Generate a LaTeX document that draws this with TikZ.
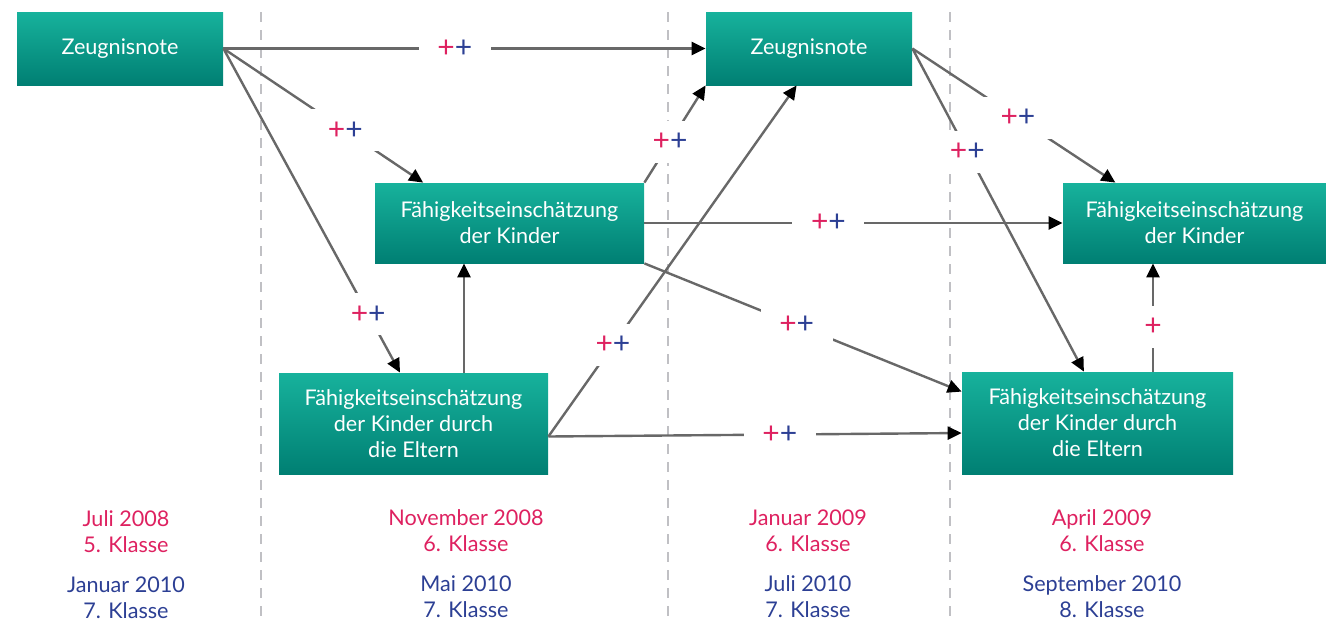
\documentclass[tikz,border=0pt]{standalone}
\usepackage{fontspec}
\setmainfont{Lato}
\usetikzlibrary{arrows.meta,positioning,calc}
\definecolor{tealTop}{HTML}{17B29C}
\definecolor{tealBot}{HTML}{007F73}
\definecolor{lineGray}{HTML}{686868}
\definecolor{dashGray}{HTML}{C0C0C4}
\definecolor{plusRed}{HTML}{DE2160}
\definecolor{plusBlue}{HTML}{2C3F94}
\newcommand{\pp}{\textcolor{plusRed}{+}\textcolor{plusBlue}{+}}

\begin{document}
\begin{tikzpicture}[x=0.5pt,y=-0.5pt,every node/.style={font=\fontsize{10.8}{13}\selectfont}]
      \tikzstyle{box}=[top color=tealTop,bottom color=tealBot,text=white,align=center,
                       inner sep=0pt,minimum width=134.5pt,minimum height=40pt]
      \tikzstyle{arr}=[draw=lineGray,line width=1.2pt,-{Triangle[length=7pt,width=6.5pt,color=black]}]
      \tikzstyle{pl}=[fill=white,minimum width=36pt,minimum height=21pt,inner sep=0pt,
                      font=\fontsize{15}{17}\selectfont]
      \tikzstyle{sep}=[dashGray,line width=1.1pt,dash pattern=on 5pt off 4pt]
      \tikzstyle{early}=[text=plusRed,align=center]
      \tikzstyle{late}=[text=plusBlue,align=center]
      \useasboundingbox (0,0) rectangle (1326,622);
      % time columns
      \foreach \x in {261,668,950} \draw[sep] (\x,12) -- (\x,622);
      % boxes
      \node[box,minimum width=103pt,minimum height=36.5pt] (z1) at (120,48.5) {Zeugnisnote};
      \node[box,minimum width=103pt,minimum height=36.5pt] (z2) at (809,48.5) {Zeugnisnote};
      \node[box] (fk1) at (509.5,223) {Fähigkeitseinschätzung\\der Kinder};
      \node[box,minimum width=131.5pt] (fk2) at (1194.5,223) {Fähigkeitseinschätzung\\der Kinder};
      \node[box,minimum height=50.5pt] (fe1) at (413.5,423.5)
            {Fähigkeitseinschätzung\\der Kinder durch\\die Eltern};
      \node[box,minimum width=135.5pt,minimum height=51pt] (fe2) at (1097.5,423)
            {Fähigkeitseinschätzung\\der Kinder durch\\die Eltern};
      % effects
      \draw[arr] (z1.east) -- node[pl,pos=0.48] (p1) {\pp} (z2.west);
      \draw[arr] (z1.east) -- node[pl,pos=0.61] (p2) {\pp} ($(fk1.north west)!0.18!(fk1.north east)$);
      \draw[arr] (z1.east) -- node[pl,pos=0.82] (p3) {\pp} ($(fe1.north west)!0.45!(fe1.north east)$);
      \draw[arr] (fk1.north east) -- node[pl,pos=0.42] (p4) {\pp} (z2.south west);
      \draw[arr] ([yshift=-6.5pt]fe1.east) -- node[pl,pos=0.26] (p5) {\pp}
            ($(z2.south west)!0.44!(z2.south east)$);
      \draw[arr] ([xshift=25.25pt]fe1.north) -- ([xshift=-22.75pt]fk1.south);
      \draw[arr] (fk1.east) -- node[pl,pos=0.44] (p7) {\pp} (fk2.west);
      \draw[arr] (fk1.south east) -- node[pl,pos=0.48] (p8) {\pp} ([yshift=-10pt]fe2.north west);
      \draw[arr] ([yshift=-6.5pt]fe1.east) -- node[pl,pos=0.56] (p9) {\pp} ([yshift=-5pt]fe2.west);
      \draw[arr] (z2.east) -- node[pl,pos=0.52] (p10) {\pp} ($(fk2.north west)!0.2!(fk2.north east)$);
      \draw[arr] (z2.east) -- node[pl,pos=0.32] (p11) {\pp} ($(fe2.north west)!0.45!(fe2.north east)$);
      \draw[arr] ([xshift=27.75pt]fe2.north) -- node[pl,pos=0.41] (p12) {\textcolor{plusRed}{+}}
            ([xshift=-20.75pt]fk2.south);
      % dates
      \node[early] (d1) at (126,532) {Juli 2008\\5. Klasse};
      \node[early] (d2) at (466,531) {November 2008\\6. Klasse};
      \node[early] (d3) at (808,531) {Januar 2009\\6. Klasse};
      \node[early] (d4) at (1102,531) {April 2009\\6. Klasse};
      \node[late] (e1) at (126,598) {Januar 2010\\7. Klasse};
      \node[late] (e2) at (466,597) {Mai 2010\\7. Klasse};
      \node[late] (e3) at (808,597) {Juli 2010\\7. Klasse};
      \node[late] (e4) at (1102,597) {September 2010\\8. Klasse};
    \end{tikzpicture}
\end{document}
